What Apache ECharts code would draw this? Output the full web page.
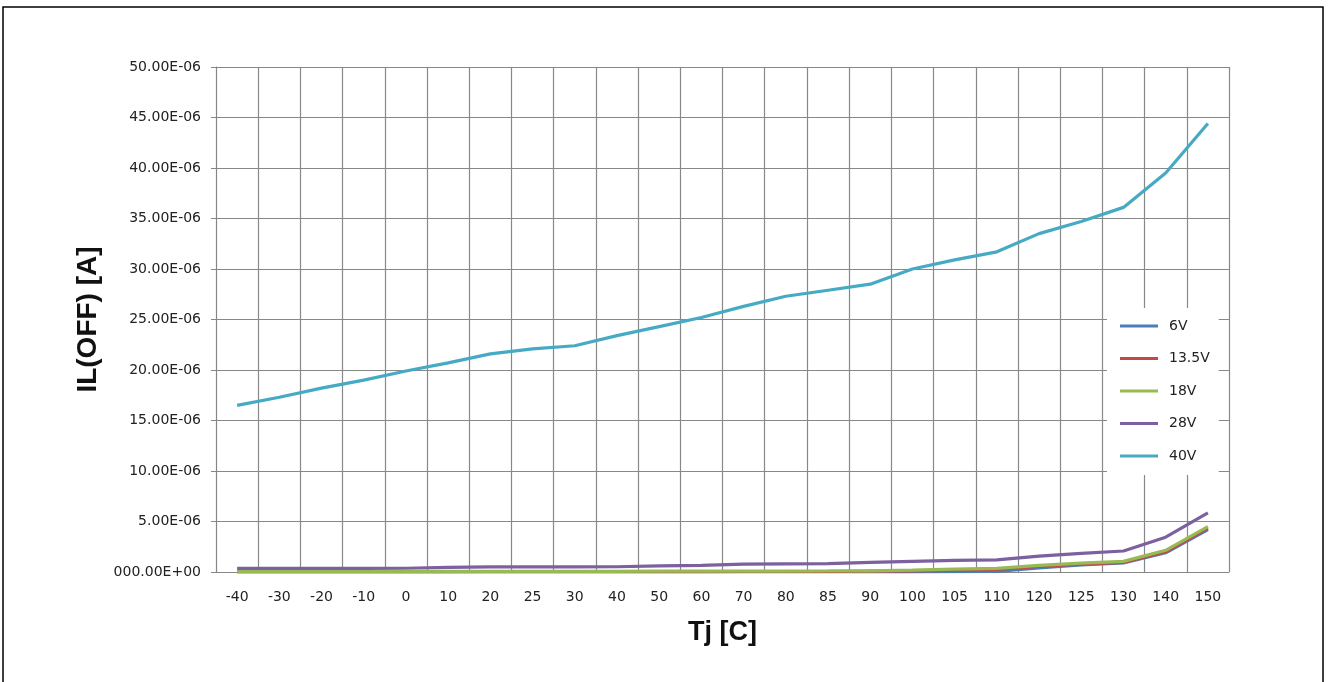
<!DOCTYPE html>
<html>
<head>
<meta charset="utf-8">
<script src="https://cdn.jsdelivr.net/npm/echarts@6/dist/echarts.min.js"></script>
<style>
html,body{margin:0;padding:0;background:#fff;}
#c{width:1329px;height:682px;}
</style>
</head>
<body>
<div id="c"></div>
<script>
// Tj [C] categories
const categories = ['-40','-30','-20','-10','0','10','20','25','30','40','50','60','70','80','85','90','100','105','110','120','125','130','140','150'];
// IL(OFF) values in microamps (scaled to A below)
const v6   = [0.00,0.00,0.00,0.00,0.00,0.00,0.00,0.00,0.00,0.00,0.00,0.00,0.00,0.00,0.00,0.00,0.02,0.03,0.05,0.40,0.70,0.90,1.90,4.20];
const v13_5= [0.02,0.02,0.02,0.02,0.02,0.02,0.03,0.03,0.03,0.03,0.04,0.04,0.05,0.05,0.06,0.08,0.10,0.15,0.25,0.55,0.78,0.95,2.00,4.35];
const v18  = [0.05,0.05,0.05,0.05,0.05,0.06,0.06,0.06,0.06,0.06,0.08,0.08,0.08,0.08,0.10,0.12,0.18,0.28,0.35,0.65,0.88,1.05,2.15,4.50];
const v28  = [0.35,0.35,0.35,0.35,0.37,0.45,0.50,0.50,0.50,0.52,0.60,0.65,0.78,0.80,0.82,0.95,1.05,1.15,1.20,1.58,1.85,2.08,3.45,5.85];
const v40  = [16.5,17.3,18.2,19.0,19.9,20.7,21.6,22.1,22.4,23.4,24.3,25.2,26.3,27.3,27.9,28.5,30.0,30.9,31.7,33.5,34.7,36.1,39.5,44.4];
const seriesNames = ['6V','13.5V','18V','28V','40V'];
const seriesData = [v6, v13_5, v18, v28, v40];
const colors = ['#4a7ebb','#be4b48','#98b954','#7d60a0','#46aac5'];
// y tick settings (A)
const yMin = 0, yMax = 50e-6, yStep = 5e-6;

const chart = echarts.init(document.getElementById('c'), null, {renderer:'canvas'});
const toA = arr => arr.map(v => +(v*1e-6).toPrecision(6));
const option = {
  backgroundColor:'#fff',
  animation:false,
  color: colors,
  graphic:[{type:'rect', shape:{x:3,y:7,width:1320,height:690}, style:{fill:'none', stroke:'#000', lineWidth:1.5}, z:-1}],
  grid:{left:216, right:100, top:67, bottom:110, containLabel:false},
  legend:{
    orient:'vertical', left:1107, top:308,
    padding:[11,9,12,13],
    backgroundColor:'#fff',
    icon:'path://M0,0H38V3H0Z',
    itemWidth:38, itemHeight:14, itemGap:18.5,
    textStyle:{fontFamily:'DejaVu Sans', fontSize:14, color:'#222', padding:[0,0,0,6]},
    data: seriesNames
  },
  xAxis:{
    type:'category', data:categories, boundaryGap:true,
    name:'Tj [C]', nameLocation:'middle', nameGap:47,
    nameTextStyle:{fontFamily:'Liberation Sans', fontWeight:'bold', fontSize:27, color:'#111'},
    axisLine:{show:true, lineStyle:{color:'#868686', width:1}},
    axisTick:{show:false},
    axisLabel:{interval:0, margin:18, fontFamily:'DejaVu Sans', fontSize:14, color:'#222'},
    splitLine:{show:true, interval:0, lineStyle:{color:'#888', width:1.2}}
  },
  yAxis:{
    type:'value', min:yMin, max:yMax, interval:yStep,
    name:'IL(OFF) [A]', nameLocation:'middle', nameGap:113, nameRotate:90,
    nameTextStyle:{fontFamily:'Liberation Sans', fontWeight:'bold', fontSize:28, color:'#111'},
    axisLine:{show:true, lineStyle:{color:'#868686', width:1}},
    axisTick:{show:true, inside:false, length:5, lineStyle:{color:'#868686'}},
    axisLabel:{margin:15, fontFamily:'DejaVu Sans', fontSize:14, color:'#222',
      formatter: v => { const u = Math.round(v*1e8)/100; return u===0 ? '000.00E+00' : u.toFixed(2)+'E-06'; }},
    splitLine:{show:true, lineStyle:{color:'#888', width:1.2}}
  },
  series: seriesNames.map((n,i)=>({
    name:n, type:'line', data:toA(seriesData[i]),
    showSymbol:false, symbol:'none', smooth:false,
    lineStyle:{width:3.2, color:colors[i]},
    itemStyle:{color:colors[i]},
    z: 2+i
  }))
};
chart.setOption(option);
</script>
</body>
</html>
